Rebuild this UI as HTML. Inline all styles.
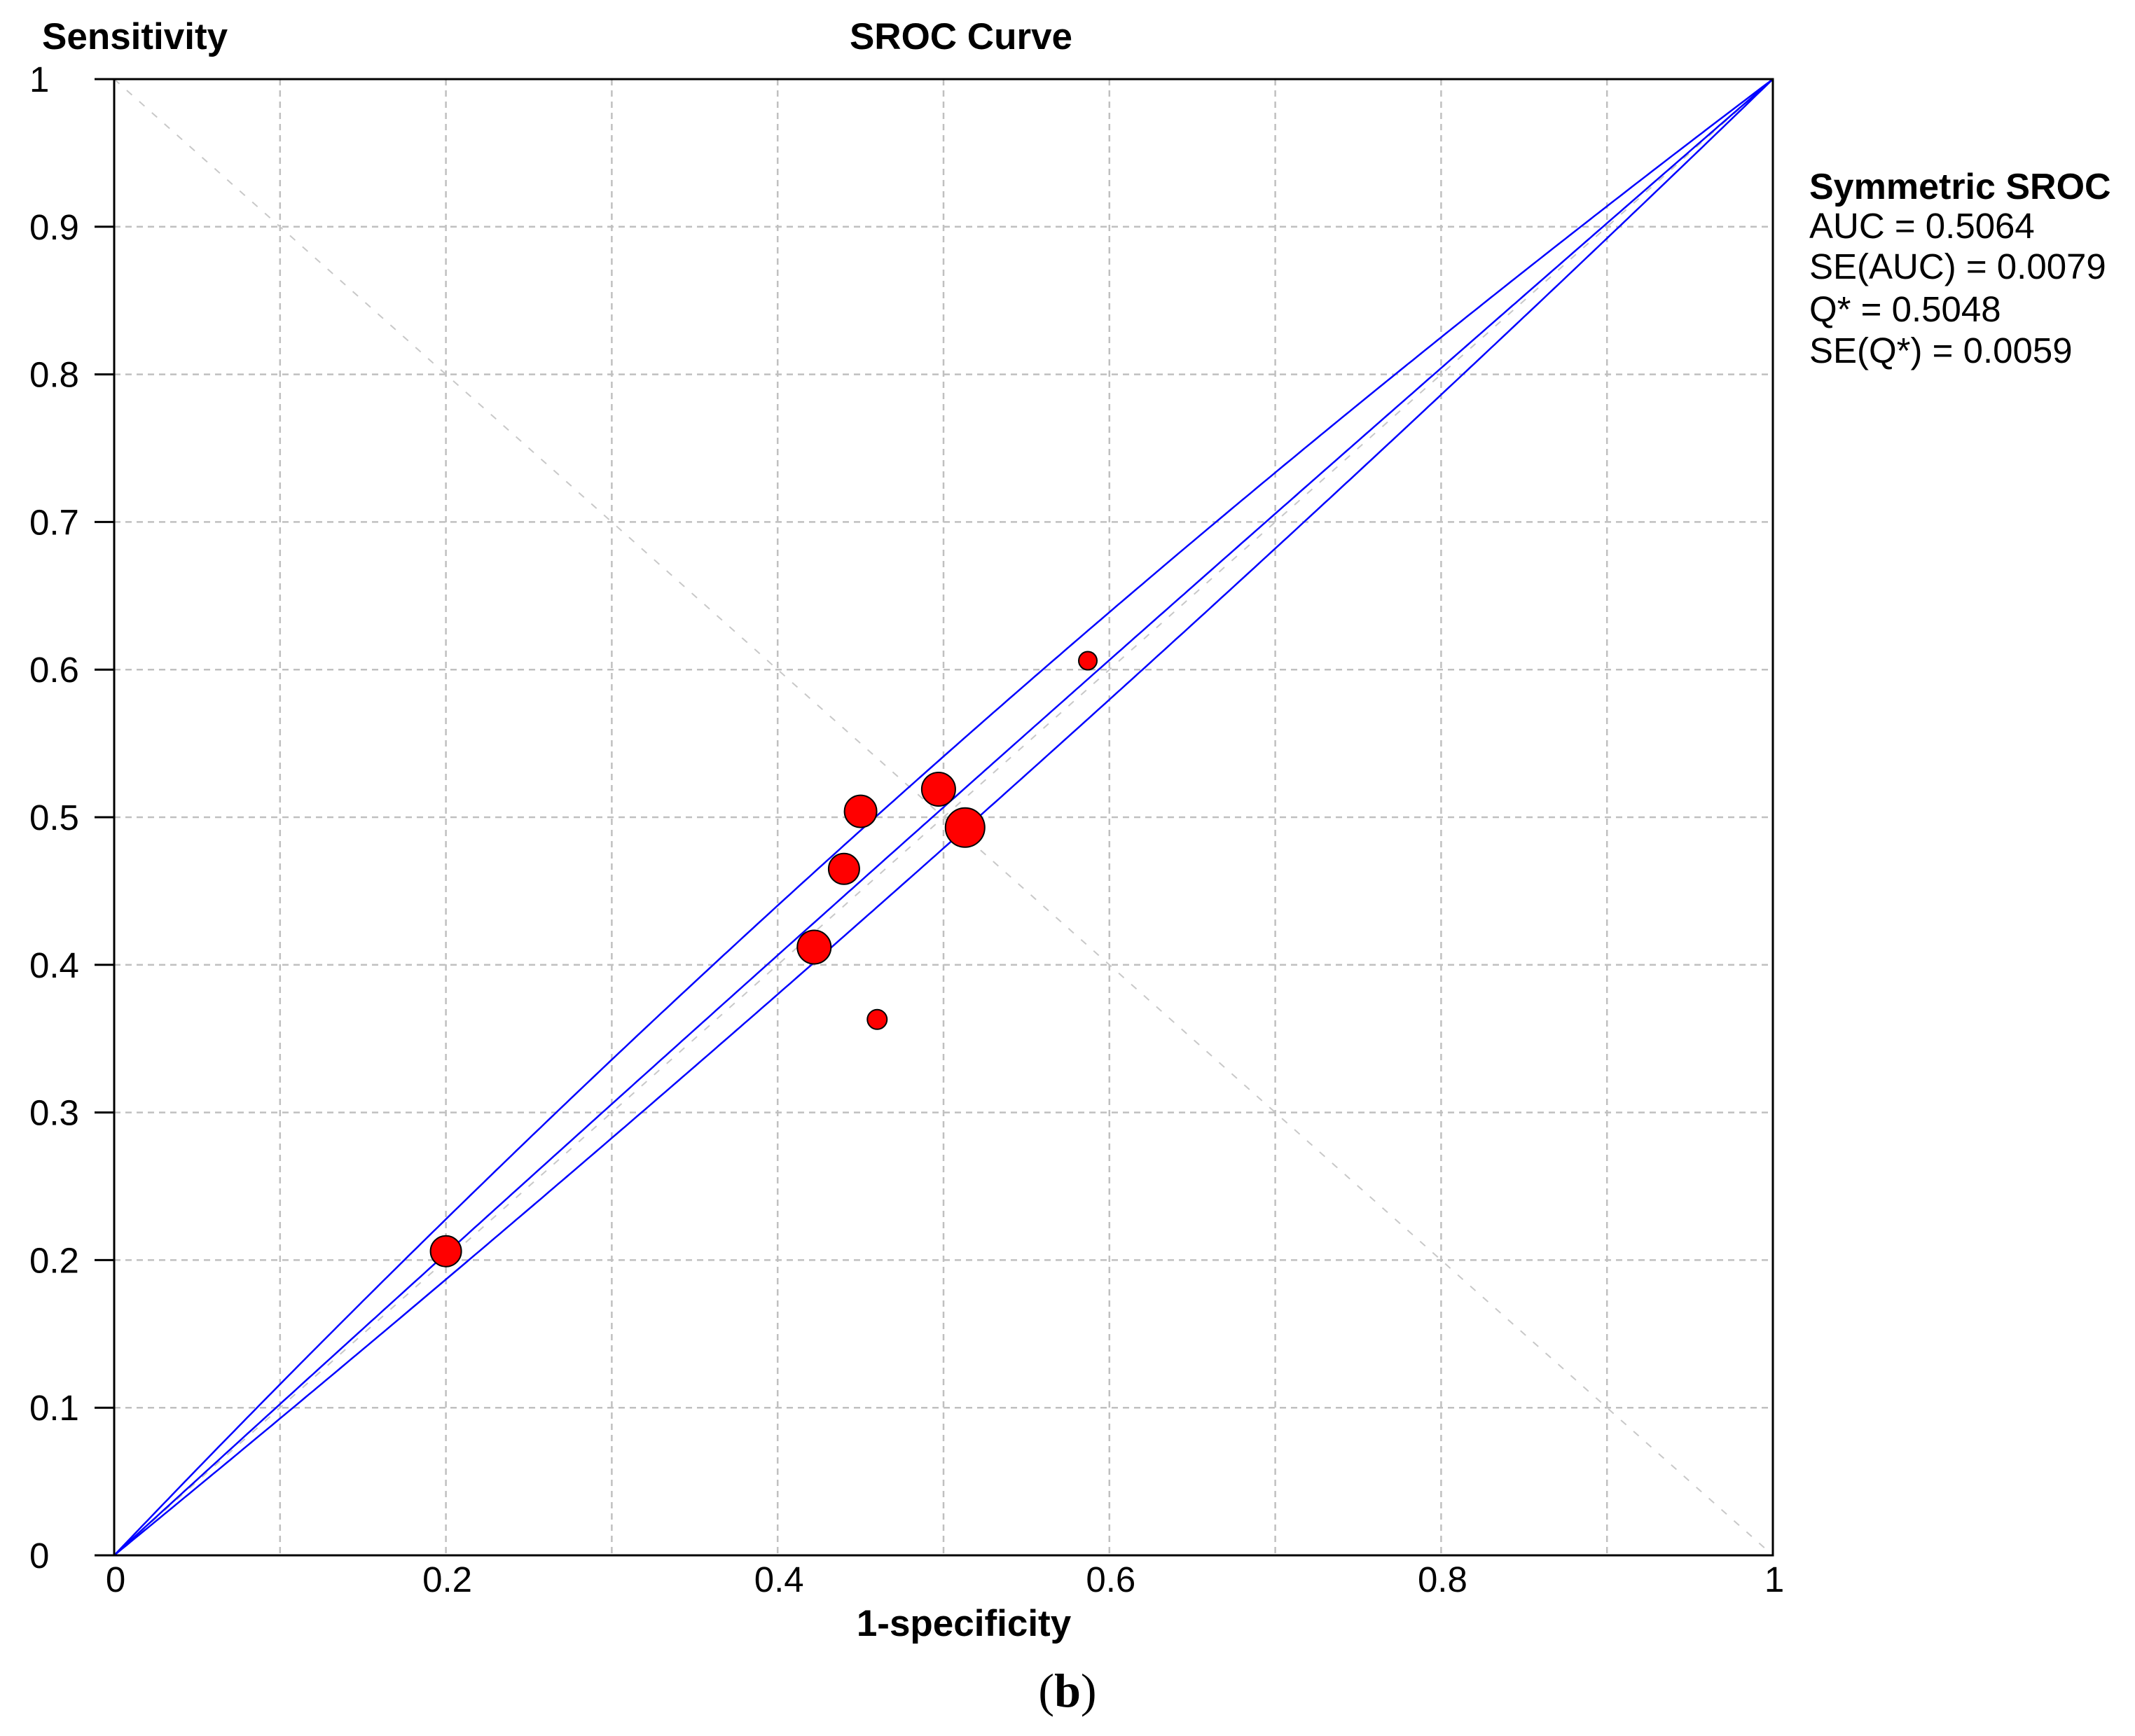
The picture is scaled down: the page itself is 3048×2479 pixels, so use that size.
<!DOCTYPE html>
<html><head><meta charset="utf-8"><style>
html,body{margin:0;padding:0;background:#fff;}
svg{display:block;font-family:"Liberation Sans",Arial,sans-serif;}
</style></head><body>
<svg id="chart" width="3048" height="2479" viewBox="0 0 3048 2479" xmlns="http://www.w3.org/2000/svg">
<rect x="0" y="0" width="3048" height="2479" fill="#fff"/>
<g id="grid"></g>
<g id="refs"></g>
<g id="curves"></g>
<g id="points"></g>
<g id="axes"></g>
<text x="60" y="70" font-size="53" font-weight="bold">Sensitivity</text>
<text x="1372" y="70" font-size="53" font-weight="bold" text-anchor="middle">SROC Curve</text>
<text x="1376" y="2336" font-size="53" font-weight="bold" text-anchor="middle">1-specificity</text>
<g font-size="51">
<text x="2583" y="284" font-weight="bold" font-size="52">Symmetric SROC</text>
<text x="2583" y="340">AUC = 0.5064</text>
<text x="2583" y="398">SE(AUC) = 0.0079</text>
<text x="2583" y="459">Q* = 0.5048</text>
<text x="2583" y="518">SE(Q*) = 0.0059</text>
</g>
<text x="1524" y="2437" font-size="68" font-family="Liberation Serif,serif" text-anchor="middle">(<tspan font-weight="bold">b</tspan>)</text>
</svg>
<script>
const xTicks = [0, 0.2, 0.4, 0.6, 0.8, 1];
const xTickLabels = ["0", "0.2", "0.4", "0.6", "0.8", "1"];
const yTicks = [0, 0.1, 0.2, 0.3, 0.4, 0.5, 0.6, 0.7, 0.8, 0.9, 1];
const yTickLabels = ["0", "0.1", "0.2", "0.3", "0.4", "0.5", "0.6", "0.7", "0.8", "0.9", "1"];
const gridValues = [0.1, 0.2, 0.3, 0.4, 0.5, 0.6, 0.7, 0.8, 0.9];
const studyFpr = [0.587, 0.497, 0.450, 0.513, 0.440, 0.422, 0.460, 0.200];
const studySens = [0.606, 0.519, 0.504, 0.493, 0.465, 0.412, 0.363, 0.206];
const studyWeight = [13, 24, 23, 28, 22, 24, 14, 22];
const curveNames = ["sroc-upper-band", "sroc-curve", "sroc-lower-band"];
const curveLogitShift = [0.165, 0.027, -0.084];

const X0 = 163, X1 = 2531, YT = 113, YB = 2221;
const sx = v => X0 + v * (X1 - X0);
const sy = v => YB - v * (YB - YT);
const NS = "http://www.w3.org/2000/svg";
function mk(tag, attrs, parent) {
  const e = document.createElementNS(NS, tag);
  for (const k in attrs) e.setAttribute(k, attrs[k]);
  parent.appendChild(e);
  return e;
}
const grid = document.getElementById('grid');
gridValues.forEach(v => {
  const a = mk('line', {x1: sx(v), x2: sx(v), y1: YT, y2: YB, stroke: '#c0c0c0', 'stroke-width': 2.5, 'stroke-dasharray': '9 7'}, grid);
  
  
  const b = mk('line', {x1: X0, x2: X1, y1: sy(v), y2: sy(v), stroke: '#c0c0c0', 'stroke-width': 2.5, 'stroke-dasharray': '9 7'}, grid);
  
  
});
const refs = document.getElementById('refs');
const d1 = mk('line', {x1: sx(0), y1: sy(1), x2: sx(1), y2: sy(0), stroke: '#c8c8c8', 'stroke-width': 2, 'stroke-dasharray': '10 14'}, refs);


const d2 = mk('line', {x1: sx(0), y1: sy(0), x2: sx(1), y2: sy(1), stroke: '#c8c8c8', 'stroke-width': 2, 'stroke-dasharray': '10 14'}, refs);



const curves = document.getElementById('curves');
curveLogitShift.forEach((a, i) => {
  let d = '';
  for (let k = 0; k <= 400; k++) {
    const f = k / 400;
    let s;
    if (f <= 0) s = 0; else if (f >= 1) s = 1;
    else { const l = Math.log(f / (1 - f)) + a; s = 1 / (1 + Math.exp(-l)); }
    d += (k ? 'L' : 'M') + sx(f).toFixed(1) + ',' + sy(s).toFixed(1);
  }
  const p = mk('path', {d: d, fill: 'none', stroke: '#0000ff', 'stroke-width': 2.5}, curves);
  
  
});

const pts = document.getElementById('points');
studyFpr.forEach((f, i) => {
  const c = mk('circle', {cx: sx(f), cy: sy(studySens[i]), r: studyWeight[i], fill: '#ff0000', stroke: '#000', 'stroke-width': 2}, pts);
  
  
});

const axes = document.getElementById('axes');
const fr = mk('rect', {x: X0, y: YT, width: X1 - X0, height: YB - YT, fill: 'none', stroke: '#000', 'stroke-width': 3}, axes);


yTicks.forEach((v, i) => {
  const t = mk('line', {x1: 135, x2: X0, y1: sy(v), y2: sy(v), stroke: '#000', 'stroke-width': 3}, axes);
  
  
  const lb = mk('text', {x: 42, y: sy(v) + 18, 'font-size': 51}, axes);
  lb.textContent = yTickLabels[i];
  
  
});
xTicks.forEach((v, i) => {
  const lb = mk('text', {x: sx(v) + 2, y: 2273, 'font-size': 51, 'text-anchor': 'middle'}, axes);
  lb.textContent = xTickLabels[i];
  
  
});
</script>
</body></html>
